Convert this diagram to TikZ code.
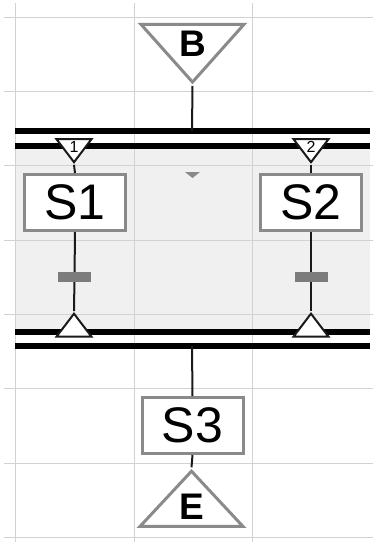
\documentclass[tikz,border=0pt]{standalone}
\usepackage{fontspec}
\setmainfont{Liberation Sans}
\usetikzlibrary{positioning,shapes.geometric,backgrounds}
\definecolor{cGrid}{HTML}{D2D2D2}
\definecolor{cShade}{HTML}{F0F0F0}
\definecolor{cEdge}{HTML}{8A8A8A}
\definecolor{cTrans}{HTML}{7C7C7C}
\definecolor{cInk}{HTML}{1A1A1A}
\tikzset{
  grid/.style     = {draw=cGrid, line width=1pt},
  stepbox/.style  = {draw=cEdge, line width=3pt, fill=white, inner sep=0pt,
                     minimum width=101pt, minimum height=56pt,
                     font=\fontsize{50}{50}\selectfont},
  term/.style     = {isosceles triangle, isosceles triangle stretches,
                     draw=cEdge, line width=3pt, fill=white, inner sep=0pt,
                     minimum width=103pt, minimum height=54pt,
                     font=\fontsize{37}{37}\selectfont\bfseries},
  entry/.style    = {term, shape border rotate=270},
  exit/.style     = {term, shape border rotate=90},
  branch/.style   = {isosceles triangle, isosceles triangle stretches,
                     draw=cInk, line width=2pt, fill=white, inner sep=0pt,
                     minimum width=35pt, minimum height=23pt,
                     font=\fontsize{16}{16}\selectfont},
  trans/.style    = {fill=cTrans, inner sep=0pt, minimum width=33pt,
                     minimum height=10pt},
  bar/.style      = {draw=black, line width=6pt},
  wire/.style     = {draw=cInk, line width=2pt},
}
\begin{document}
\begin{tikzpicture}[x=1pt, y=-1pt]
  \useasboundingbox (0,0) rectangle (373,542);
  % spreadsheet grid
  \fill[cShade] (15,149) rectangle (370,329);
  \foreach \gy in {17,91,165,240,314,388,463,537}
    \draw[grid] (4,\gy) -- (373,\gy);
  \foreach \gx in {15,134,252}
    \draw[grid] (\gx,3) -- (\gx,542);
  % double bars
  \draw[bar] (15,131) -- (370,131);
  \draw[bar] (15,146) -- (370,146);
  \draw[bar] (15,332) -- (370,332);
  \draw[bar] (15,346) -- (370,346);
  \coordinate (forkin) at (192,131);
  \coordinate (joinout) at (192,346);

  \node[entry] (B) at (192.5,44) {B};
  \node[branch, shape border rotate=270] (br1) at (74,147) {1};
  \node[branch, shape border rotate=270] (br2) at (311,147) {2};
  \node[stepbox] (S1) at (75,202.5) {S1};
  \node[stepbox] (S2) at (311,202.5) {S2};
  \node[trans] (t1) at (74.5,277) {};
  \node[trans] (t2) at (311,277) {};
  \node[branch, shape border rotate=90] (jn1) at (74,328) {};
  \node[branch, shape border rotate=90] (jn2) at (311,328) {};
  \node[stepbox] (S3) at (192.5,425.5) {S3};
  \node[exit] (E) at (191.5,507) {E};
  \fill[cEdge] (185,172) -- (200,172) -- (192.5,178) -- cycle;

  \draw[wire] (B.apex) -- (forkin);
  \draw[wire] (br1.apex) -- (S1.north);
  \draw[wire] (br2.apex) -- (S2.north);
  \draw[wire] (S1.south) -- (t1) -- (jn1.apex);
  \draw[wire] (S2.south) -- (t2) -- (jn2.apex);
  \draw[wire] (joinout) -- (S3.north);
  \draw[wire] (S3.south) -- (E.apex);
\end{tikzpicture}
\end{document}
